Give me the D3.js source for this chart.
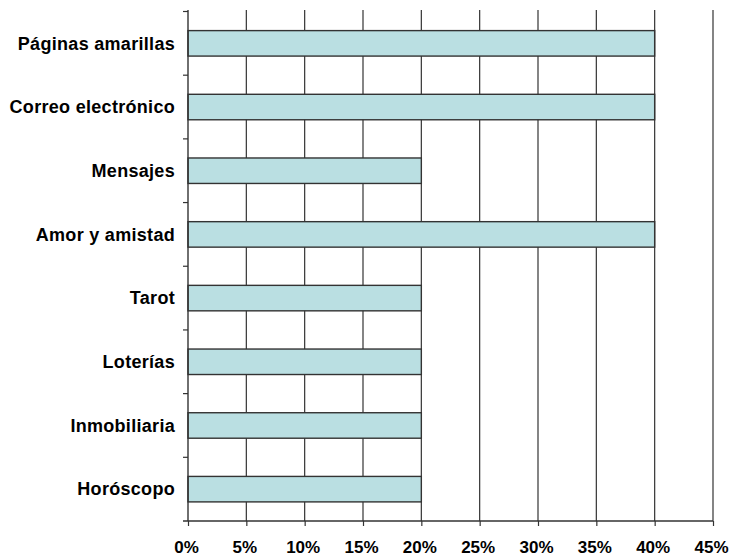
<!DOCTYPE html>
<html>
<head>
<meta charset="utf-8">
<script src="https://cdn.jsdelivr.net/npm/d3@7"></script>
<style>
  html, body { margin: 0; padding: 0; background: #fff; }
  svg text { font-family: "Liberation Sans", Arial, sans-serif; font-weight: bold; fill: #000; }
</style>
</head>
<body>
<svg id="chart" width="729" height="558"></svg>
<script>
// Categories (top to bottom) and their shares in percent
const categories = ["Páginas amarillas", "Correo electrónico", "Mensajes", "Amor y amistad", "Tarot", "Loterías", "Inmobiliaria", "Horóscopo"];
const values = [40, 40, 20, 40, 20, 20, 20, 20];
const xTicks = [0, 5, 10, 15, 20, 25, 30, 35, 40, 45];

const svg = d3.select("#chart");
const plotLeft = 188, plotRight = 713, plotTop = 11.5, plotBottom = 521;

const x = d3.scaleLinear().domain([0, 45]).range([plotLeft, plotRight]);
const y = d3.scaleBand().domain(categories).range([plotTop, plotBottom])
  .paddingInner(0.6).paddingOuter(0.3);

// vertical gridlines
svg.append("g").selectAll("line").data(xTicks.slice(1)).join("line")
  .attr("x1", d => x(d)).attr("x2", d => x(d))
  .attr("y1", 10).attr("y2", plotBottom)
  .attr("stroke", "#333").attr("stroke-width", 1.2);

// bars
svg.append("g").selectAll("rect").data(values).join("rect")
  .attr("x", x(0))
  .attr("y", (d, i) => y(categories[i]))
  .attr("width", d => x(d) - x(0))
  .attr("height", y.bandwidth())
  .attr("fill", "#badfe2")
  .attr("stroke", "#333").attr("stroke-width", 1.4);

// x axis
const xAxis = svg.append("g").attr("transform", `translate(0,${plotBottom})`)
  .call(d3.axisBottom(x).tickValues(xTicks).tickFormat(d => d + "%").tickSize(5).tickSizeOuter(0));
xAxis.select(".domain").remove();
xAxis.append("line").attr("x1", plotLeft - 5).attr("x2", plotRight).attr("stroke", "#333").attr("stroke-width", 1.4);
xAxis.selectAll(".tick line").attr("stroke", "#333").attr("stroke-width", 1.2);
xAxis.selectAll(".tick text").attr("x", -2).attr("y", 20).attr("dy", "0.71em")
  .style("font-size", "17px");

// y axis: line, ticks at band boundaries, labels at band centres
const yAxis = svg.append("g");
yAxis.append("line").attr("x1", plotLeft).attr("x2", plotLeft).attr("y1", 10).attr("y2", plotBottom)
  .attr("stroke", "#333").attr("stroke-width", 1.4);
const bounds = d3.range(categories.length).map(i => plotTop + i * y.step());
yAxis.selectAll(".ytick").data(bounds).join("line")
  .attr("x1", plotLeft - 5).attr("x2", plotLeft)
  .attr("y1", d => d).attr("y2", d => d)
  .attr("stroke", "#333").attr("stroke-width", 1.2);
yAxis.selectAll("text").data(categories).join("text")
  .attr("x", 175)
  .attr("y", d => y(d) + y.bandwidth() / 2)
  .attr("dy", "0.35em")
  .attr("text-anchor", "end")
  .style("font-size", "18px")
  .style("letter-spacing", "0.3px")
  .text(d => d);
</script>
</body>
</html>
